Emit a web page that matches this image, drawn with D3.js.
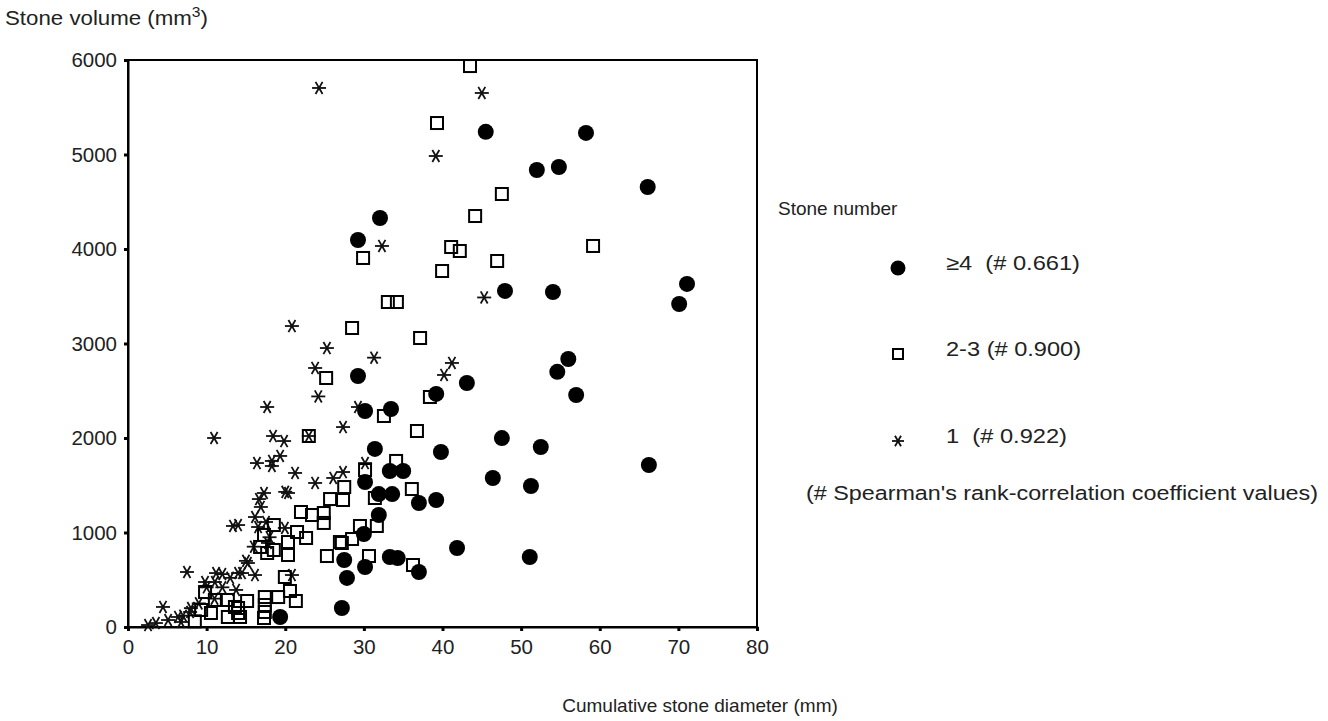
<!DOCTYPE html>
<html><head><meta charset="utf-8">
<script src="https://cdn.jsdelivr.net/npm/d3@7"></script>
<style>html,body{margin:0;padding:0;background:#fff}text{font-family:"Liberation Sans",Arial,sans-serif;fill:#222}</style>
</head><body><svg id="c" width="1328" height="721"></svg>
<script>
// ---- data ----
const xTicks = [0,10,20,30,40,50,60,70,80];
const yTicks = [0,1000,2000,3000,4000,5000,6000];
const legendLabels = ["\u22654  (# 0.661)", "2-3 (# 0.900)", "1  (# 0.922)"];
// stone number >=4 : [cumulative diameter mm, volume mm3]
const ge4 = [[45.5,5240],[58.25,5228],[52.0,4836],[54.8,4868],[66.1,4656],[32.05,4328],[29.25,4095],
 [71.1,3630],[70.1,3418],[47.95,3556],[54.05,3545],[56.0,2836],[54.6,2700],[57.0,2455],[29.25,2656],
 [43.1,2582],[39.2,2466],[30.15,2286],[33.45,2307],[47.55,1999],[52.5,1905],[66.25,1714],[31.4,1884],
 [39.8,1852],[46.4,1577],[51.25,1492],[33.3,1651],[35.0,1651],[30.15,1534],[31.9,1407],[33.6,1407],
 [37.0,1312],[39.2,1344],[31.9,1185],[30.0,984],[41.85,836],[51.1,741],[33.3,741],[34.3,730],
 [27.5,709],[30.15,635],[37.0,582],[27.85,519],[27.2,201],[19.35,106]];
// stone number 2-3
const n23 = [[43.5,5936],[39.3,5333],[47.55,4582],[44.15,4349],[41.1,4021],[42.2,3979],[59.15,4032],
 [29.9,3905],[39.95,3767],[46.95,3873],[33.05,3439],[34.2,3439],[28.5,3164],[37.15,3058],[25.2,2635],
 [38.4,2434],[23.0,2021],[36.75,2074],[32.55,2233],[30.15,1661],[34.1,1757],[27.5,1481],[27.35,1344],
 [36.1,1460],[31.4,1365],[29.5,1069],[31.65,1069],[28.5,931],[27.2,889],[30.65,751],[36.25,656],
 [25.7,1354],[22.0,1217],[23.4,1185],[24.9,1206],[24.9,1101],[18.55,1079],[17.3,974],[21.5,1005],
 [22.65,942],[20.35,899],[18.55,815],[20.35,762],[16.8,847],[17.7,783],[25.3,751],[26.95,899],
 [19.95,529],[20.6,381],[19.1,317],[21.35,275],[17.4,317],[17.4,233],[17.4,159],[17.3,95],
 [15.15,275],[14.0,201],[14.25,106],[9.8,370],[11.05,286],[12.7,286],[13.6,212],[14.0,148],
 [12.7,106],[9.3,180],[10.55,148],[8.5,60]];
// stone number 1
const n1 = [[24.3,5704],[45.0,5651],[39.15,4984],[32.3,4032],[45.3,3487],[20.85,3185],[25.3,2952],
 [23.8,2741],[31.3,2850],[24.2,2440],[41.2,2794],[40.2,2667],[29.25,2328],[27.35,2116],[30.15,1735],
 [27.35,1640],[17.7,2328],[10.95,2000],[18.45,2021],[19.85,1968],[23.0,2021],[19.35,1810],[18.3,1757],
 [18.3,1704],[16.4,1735],[21.25,1630],[23.8,1524],[26.1,1577],[20.35,1418],[20.0,1430],[17.3,1418],
 [16.65,1354],[16.9,1270],[16.15,1164],[17.55,1111],[14.0,1079],[16.55,1058],[19.95,1048],[17.8,889],
 [15.25,677],[16.15,550],[14.5,571],[20.85,550],[13.35,1069],[7.5,582],[4.45,212],[11.2,571],
 [9.8,476],[11.05,476],[14.0,571],[13.75,392],[2.55,21],[3.55,42],[5.1,74],[6.35,106],[7.9,159],
 [6.75,53],[9.0,250],[11.0,300],[12.0,420],[13.0,520],[15.0,700],[16.0,850],[18.0,950],[10.0,420],
 [12.0,560],[8.0,200],[7.0,120]];

// ---- layout ----
const svg = d3.select("#c");
const x = d3.scaleLinear().domain([0,80]).range([128,757]);
const y = d3.scaleLinear().domain([0,6000]).range([627,60]);

// frame
svg.append("rect").attr("x",128).attr("y",60).attr("width",629).attr("height",567)
  .attr("fill","none").attr("stroke","#000").attr("stroke-width",2);

// axes
const xa = svg.append("g").attr("transform","translate(0,627)")
  .call(d3.axisBottom(x).tickValues(xTicks).tickSize(4).tickPadding(8).tickFormat(d3.format("d")));
const ya = svg.append("g").attr("transform","translate(128,0)")
  .call(d3.axisLeft(y).tickValues(yTicks).tickSize(4).tickPadding(7).tickFormat(d3.format("d")));
[xa,ya].forEach(g=>{
  g.select(".domain").attr("stroke","#000").attr("stroke-width",2);
  g.selectAll(".tick line").attr("stroke","#000").attr("stroke-width",3);
  g.selectAll(".tick text").attr("font-size",20.5).attr("fill","#222")
    .style("font-family",'"Liberation Sans",Arial,sans-serif');
});

// titles
svg.append("text").attr("x",5).attr("y",25).attr("font-size",20).attr("textLength",203).attr("lengthAdjust","spacingAndGlyphs")
  .html('Stone volume (mm<tspan dy="-8" font-size="14">3</tspan><tspan dy="8">)</tspan>');
svg.append("text").attr("x",700).attr("y",712).attr("font-size",19).attr("text-anchor","middle")
  .text("Cumulative stone diameter (mm)");

// markers
const star = (g, cx, cy, r) => {
  [0,60,120].forEach(a=>{
    const t = a*Math.PI/180;
    g.append("line").attr("x1",cx-r*Math.cos(t)).attr("y1",cy-r*Math.sin(t))
      .attr("x2",cx+r*Math.cos(t)).attr("y2",cy+r*Math.sin(t))
      .attr("stroke","#111").attr("stroke-width",1.8);
  });
};
const plot = svg.append("g");
n1.forEach(d=>star(plot, x(d[0]), y(d[1]), 7));
plot.selectAll("rect.sq").data(n23).join("rect").attr("class","sq")
  .attr("x",d=>x(d[0])-6).attr("y",d=>y(d[1])-6).attr("width",12).attr("height",12)
  .attr("fill","none").attr("stroke","#000").attr("stroke-width",2);
plot.selectAll("circle.ge4").data(ge4).join("circle").attr("class","ge4")
  .attr("cx",d=>x(d[0])).attr("cy",d=>y(d[1])).attr("r",8).attr("fill","#000");

// legend
const lg = svg.append("g");
lg.append("text").attr("x",778).attr("y",215).attr("font-size",19).text("Stone number");
const ly = [268,354,441];
const lw = [134,135,121];
lg.append("circle").attr("cx",898).attr("cy",ly[0]).attr("r",7.5).attr("fill","#000");
lg.append("rect").attr("x",893).attr("y",ly[1]-5).attr("width",10).attr("height",10)
  .attr("fill","none").attr("stroke","#000").attr("stroke-width",2);
star(lg, 898, ly[2], 6);
legendLabels.forEach((t,i)=>{
  lg.append("text").attr("x",946).attr("y",ly[i]+2).attr("font-size",20.5).attr("xml:space","preserve")
    .attr("textLength",lw[i]).attr("lengthAdjust","spacingAndGlyphs").text(t);
});
lg.append("text").attr("x",806).attr("y",500).attr("font-size",20.5)
  .attr("textLength",512).attr("lengthAdjust","spacingAndGlyphs")
  .text("(# Spearman's rank-correlation coefficient values)");
</script></body></html>
